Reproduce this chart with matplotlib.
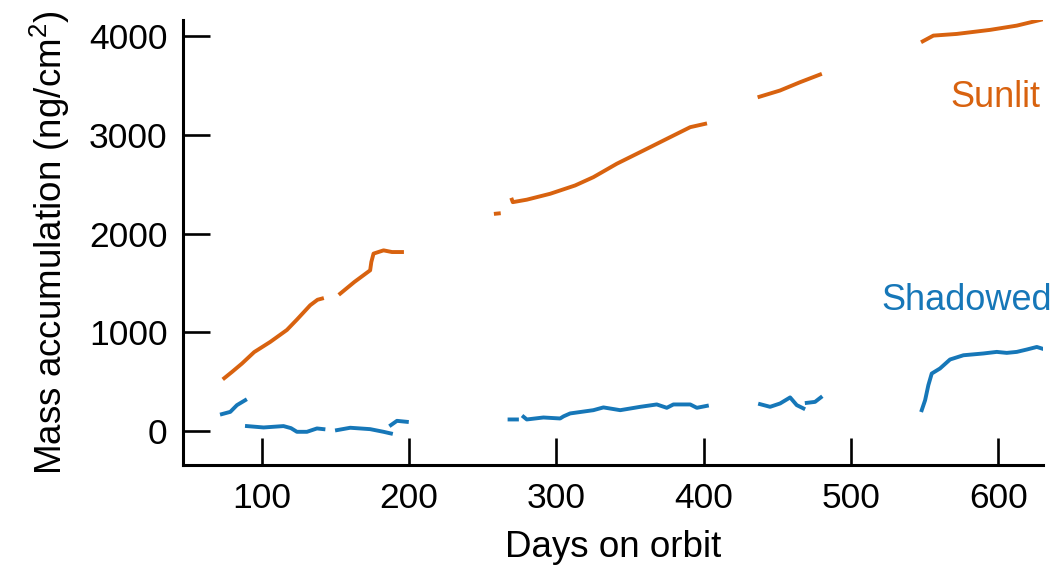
import numpy as np
import matplotlib
matplotlib.use('Agg')
import matplotlib.pyplot as plt

plt.rcParams['font.family'] = ['Liberation Sans', 'DejaVu Sans']
plt.rcParams['mathtext.fontset'] = 'custom'
plt.rcParams['mathtext.rm'] = 'Liberation Sans'
plt.rcParams['mathtext.it'] = 'Liberation Sans'

nan = np.nan

# sunlit plate, segments separated by nan
sun_days = [74.7, 80, 86.7, 95, 105.9, 117.2, 124, 133, 138, 141, nan,
            153.4, 163, 173.7, 174.5, 176, 182.8, 188.5, 195.3, nan,
            259.0, 261.0, nan,
            269.9, 270.5, 280, 295.9, 312.8, 325.2, 341.1, 359.2, 377.3, 390.9, 401, nan,
            437.9, 451.8, 465.4, 479, nan,
            548.7, 555.9, 571.8, 594.4, 612.5, 629.4]
sun_mass = [536, 600, 684, 800, 903, 1024, 1129, 1274, 1330, 1342, nan,
            1392, 1510, 1628, 1712, 1797, 1830, 1813, 1813, nan,
            2201, 2204, nan,
            2343, 2318, 2343, 2403, 2487, 2571, 2707, 2841, 2976, 3077, 3111, nan,
            3385, 3448, 3532, 3610, nan,
            3946, 4004, 4021, 4062, 4105, 4166]

# shadowed plate
shd_days = [73.1, 78.8, 83.3, 88.9, nan,
            90.1, 101.4, 114.9, 120, 124, 130.8, 137.6, 142, nan,
            151.2, 160.2, 173.7, 182.8, 187.8, nan,
            187.8, 191.9, 198.6, nan,
            268.3, 273.3, nan,
            277.8, 280, 291.3, 302.6, 305, 309.4, 325.2, 332, 343.4, 357, 368.2, 375, 379.5, 390.9, 395.4, 402.2, nan,
            438.3, 445.1, 451.9, 458.7, 463.2, 467.7, nan,
            470, 475.6, 479.5, nan,
            548, 550.3, 552.5, 554.8, 560.4, 567.2, 576.3, 589.8, 598.9, 605.7, 612.5, 619.3, 626.1, 631.7]
shd_mass = [172, 195, 263, 313, nan,
            51, 37, 51, 30, -7, -7, 27, 20, nan,
            10, 34, 20, -7, -24, nan,
            61, 104, 94, nan,
            118, 118, nan,
            145, 118, 138, 128, 150, 179, 212, 240, 212, 246, 270, 236, 270, 270, 236, 256, nan,
            273, 246, 280, 341, 263, 230, nan,
            286, 296, 341, nan,
            212, 313, 465, 583, 634, 725, 768, 786, 802, 792, 802, 826, 852, 826]

orange = '#D8620F'
blue = '#1677B8'

fig = plt.figure(figsize=(10.55, 5.7), dpi=100)
ax = fig.add_axes([183/1055, 1 - 465/570, (1043 - 183)/1055, (465 - 20)/570])

ax.plot(sun_days, sun_mass, color=orange, lw=2.8)
ax.plot(shd_days, shd_mass, color=blue, lw=2.8)

ax.set_xlim(46.7, 630.3)
ax.set_ylim(-343, 4162)
ax.set_xticks([100, 200, 300, 400, 500, 600])
ax.set_yticks([0, 1000, 2000, 3000, 4000])

for s in ['top', 'right']:
    ax.spines[s].set_visible(False)
for s in ['left', 'bottom']:
    ax.spines[s].set_linewidth(2.2)

ax.tick_params(axis='both', direction='in', length=19.5, width=1.9, labelsize=25.5, color='black')
ax.tick_params(axis='y', pad=11)
ax.tick_params(axis='x', pad=12)

ax.set_xlabel('Days on orbit', fontsize=26.5, labelpad=11)
ax.set_ylabel('Mass accumulation (ng/cm$^2$)', fontsize=26.5, labelpad=12)

ax.text(0.997, 0.825, 'Sunlit', transform=ax.transAxes, color=orange, fontsize=26, ha='right', va='center')
ax.text(1.01, 0.37, 'Shadowed', transform=ax.transAxes, color=blue, fontsize=26, ha='right', va='center')

fig.savefig('out.png', dpi=100)
